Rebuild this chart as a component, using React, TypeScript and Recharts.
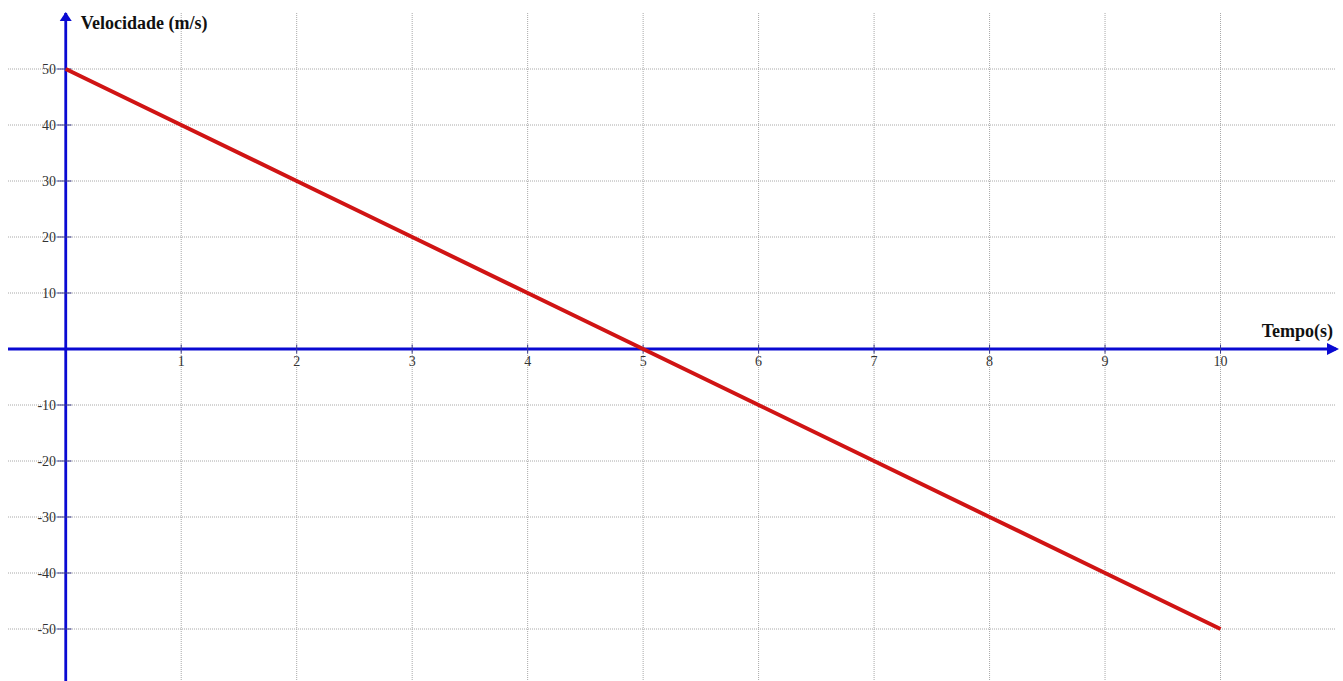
import React from 'react';
import {
    LineChart,
    Line,
    XAxis,
    YAxis,
    CartesianGrid,
    ReferenceLine,
    ReferenceDot,
} from 'recharts';

// valores
const tempo = [0, 1, 2, 3, 4, 5, 6, 7, 8, 9, 10];
const velocidade = [50, 40, 30, 20, 10, 0, -10, -20, -30, -40, -50];

const xTicks = [1, 2, 3, 4, 5, 6, 7, 8, 9, 10];
const yTicks = [50, 40, 30, 20, 10, -10, -20, -30, -40, -50];

const xDomain: [number, number] = [-0.5, 11];
const yDomain: [number, number] = [-60, 60];

const AXIS_COLOR = '#0a0ad2';
const TICK_COLOR = '#3a3a8a';
const GRID_COLOR = '#a8a8a8';
const LINE_COLOR = '#d01414';
const FONT = '"Liberation Serif", "Times New Roman", serif';

const data = tempo.map((t, i) => ({ t, v: velocidade[i] }));

const ArrowRight = (props: any) => {
    const { cx, cy } = props;
    return <polygon points={`${cx + 3},${cy} ${cx - 9},${cy - 6} ${cx - 9},${cy + 6}`} fill={AXIS_COLOR} />;
};

const ArrowUp = (props: any) => {
    const { cx, cy } = props;
    return <polygon points={`${cx},${cy - 1} ${cx - 6},${cy + 8} ${cx + 6},${cy + 8}`} fill={AXIS_COLOR} />;
};

const App: React.FC = () => {
    return (
        <div style={{ position: 'absolute', left: 0, top: 0, background: '#fff' }}>
            <LineChart
                width={1343}
                height={685}
                data={data}
                margin={{ top: 13, right: 7, bottom: 0, left: 8 }}
            >
                <XAxis type="number" dataKey="t" domain={xDomain} allowDataOverflow hide />
                <YAxis type="number" domain={yDomain} allowDataOverflow hide />
                <CartesianGrid
                    stroke={GRID_COLOR}
                    strokeDasharray="1 1"
                    horizontalValues={yTicks}
                    verticalValues={xTicks}
                />

                {/* eixos */}
                <ReferenceLine
                    y={0}
                    stroke={AXIS_COLOR}
                    strokeWidth={2.8}
                    label={{
                        content: (p: any) => (
                            <text
                                x={p.viewBox.x + p.viewBox.width - 3}
                                y={p.viewBox.y - 12}
                                textAnchor="end"
                                fontFamily={FONT}
                                fontWeight="bold"
                                fontSize={18}
                                fill="#111"
                            >
                                Tempo(s)
                            </text>
                        ),
                    }}
                />
                <ReferenceLine
                    x={0}
                    stroke={AXIS_COLOR}
                    strokeWidth={2.8}
                    label={{
                        content: (p: any) => (
                            <text
                                x={p.viewBox.x + 15}
                                y={p.viewBox.y + 16}
                                fontFamily={FONT}
                                fontWeight="bold"
                                fontSize={18}
                                fill="#111"
                            >
                                Velocidade (m/s)
                            </text>
                        ),
                    }}
                />

                {/* marcas e rótulos */}
                {xTicks.map((t) => (
                    <ReferenceLine
                        key={`xt-${t}`}
                        segment={[{ x: t, y: -0.8 }, { x: t, y: 0.8 }]}
                        stroke={TICK_COLOR}
                        strokeWidth={1}
                        label={{ value: String(t), position: 'bottom', offset: 3, fill: '#333', fontSize: 14, fontFamily: FONT }}
                    />
                ))}
                {yTicks.map((t) => (
                    <ReferenceLine
                        key={`yt-${t}`}
                        segment={[{ x: -0.075, y: t }, { x: 0.05, y: t }]}
                        stroke={TICK_COLOR}
                        strokeWidth={1}
                        label={{ value: String(t), position: 'left', offset: 1, fill: '#333', fontSize: 14, fontFamily: FONT }}
                    />
                ))}

                <ReferenceDot x={11} y={0} ifOverflow="visible" shape={ArrowRight} />
                <ReferenceDot x={0} y={60} ifOverflow="visible" shape={ArrowUp} />

                <Line
                    type="linear"
                    dataKey="v"
                    stroke={LINE_COLOR}
                    strokeWidth={4}
                    dot={false}
                    isAnimationActive={false}
                />
            </LineChart>
        </div>
    );
};

export default App;
